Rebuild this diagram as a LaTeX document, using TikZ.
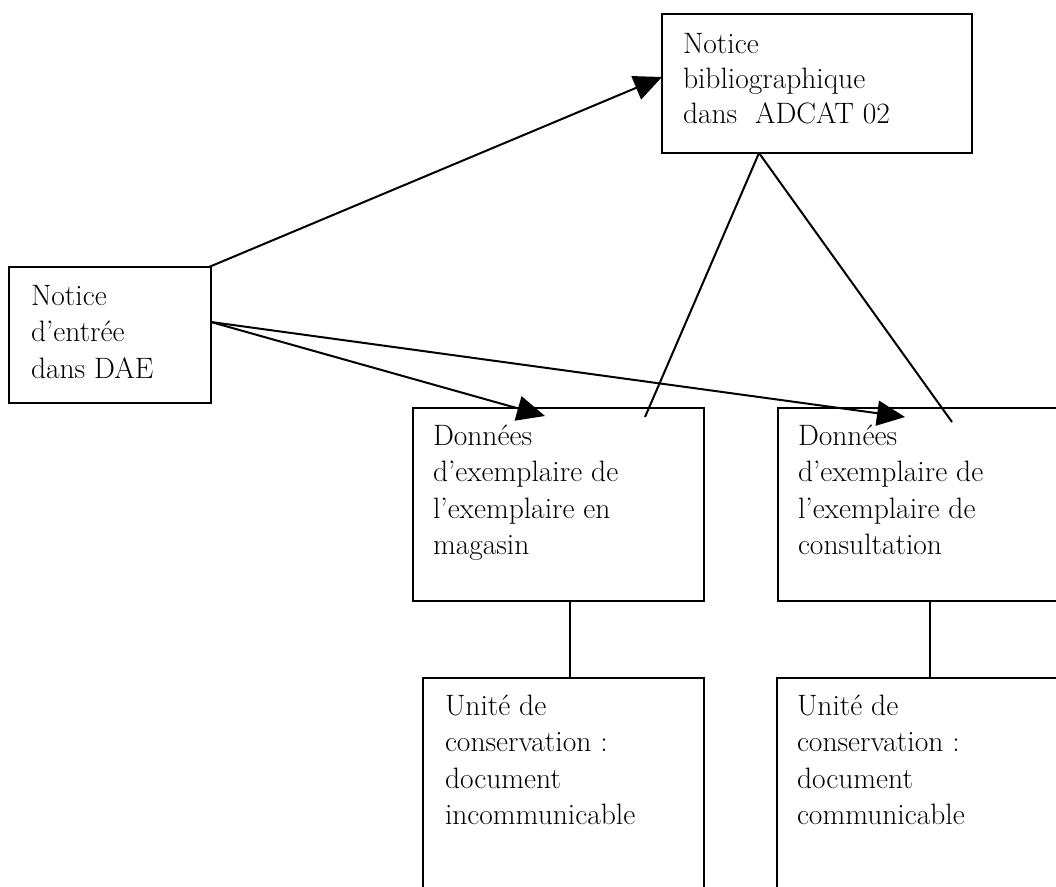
\documentclass[tikz,border=0pt]{standalone}
\usetikzlibrary{arrows.meta,calc}
\begin{document}
\begin{tikzpicture}[x=1pt,y=-1pt,
  box/.style={draw,line width=2.9pt,rectangle,inner sep=0pt,outer sep=0pt,anchor=north west},
  txt/.style={inner sep=0pt,outer sep=0pt,anchor=base west,align=left,font=\fontsize{29.5}{36.5}\selectfont},
  link/.style={line width=2pt},
  arr/.style={link,-{Triangle[length=28pt,width=25pt]}}]
\clip (0,0) rectangle (1056,886);
\fill[white] (0,0) rectangle (1056,886);
% boxes
\node[box,minimum width=310pt,minimum height=139pt] (adcat) at (662,14) {};
\node[box,minimum width=202pt,minimum height=136pt] (dae) at (9,267) {};
\node[box,minimum width=291pt,minimum height=193pt] (mag) at (413,408) {};
\node[box,minimum width=360pt,minimum height=193pt] (cons) at (778,408) {};
\node[box,minimum width=281pt,minimum height=300pt] (incom) at (423,678) {};
\node[box,minimum width=360pt,minimum height=300pt] (comm) at (777,678) {};
% texts (anchored at the baseline of their last line)
\node[txt] (tadcat) at (683,123) {Notice\\[-1.5pt]bibliographique\\[-1.5pt]dans~ ADCAT 02};
\node[txt] (tdae) at (31,378) {Notice\\d’entrée\\dans DAE};
\node[txt] (tmag) at (433,554.5) {Données\\d’exemplaire de\\l’exemplaire en\\magasin};
\node[txt] (tcons) at (798,554.5) {Données\\d’exemplaire de\\l’exemplaire de\\consultation};
\node[txt] (tincom) at (445,824.5) {Unité de\\conservation :\\document\\incommunicable};
\node[txt] (tcomm) at (797,824.5) {Unité de\\conservation :\\document\\communicable};
% connectors
\draw[arr] ($(dae.north east)+(-2,0)$) -- ($(adcat.west)+(0,-6.5)$);
\draw[arr] ($(dae.east)+(0,-13)$) -- ($(mag.north)+(-13.5,8)$);
\draw[arr] ($(dae.east)+(0,-13)$) -- ($(cons.north west)+(127,9)$);
\draw[link] ($(adcat.south)+(-58,0)$) -- ($(mag.north east)+(-59,9)$);
\draw[link] ($(adcat.south)+(-58,0)$) -- ($(cons.north west)+(174,14)$);
\coordinate (vm) at ($(mag.south west)+(156.5,0)$);
\coordinate (vc) at ($(cons.south west)+(152,0)$);
\draw[link] (vm) -- (vm |- incom.north);
\draw[link] (vc) -- (vc |- comm.north);
\end{tikzpicture}
\end{document}
